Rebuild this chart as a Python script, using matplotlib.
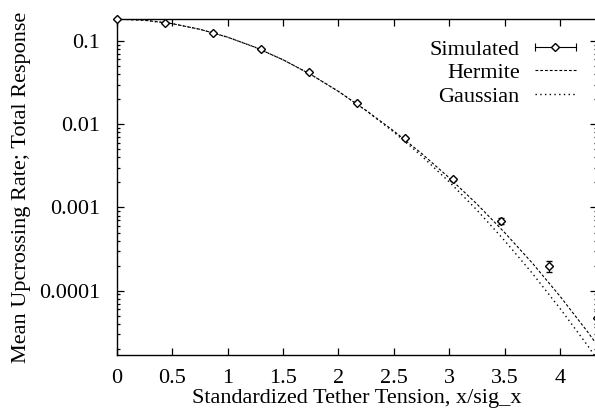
import numpy as np
import matplotlib
matplotlib.use("Agg")
import matplotlib.pyplot as plt
from matplotlib.lines import Line2D
from matplotlib.legend_handler import HandlerLine2D, HandlerTuple
from matplotlib.ticker import FixedLocator, LogLocator, NullFormatter, NullLocator, FuncFormatter

plt.rcParams['font.family'] = ['Liberation Serif', 'DejaVu Serif']
plt.rcParams['font.size'] = 16

# Simulated mean upcrossing rates (with error bars)
x_sim = [0.0, 0.433, 0.866, 1.299, 1.732, 2.165, 2.598, 3.031, 3.464, 3.897, 4.330]
y_sim = [0.1837, 0.166, 0.126, 0.080, 0.0425, 0.0182, 0.0069, 0.00217, 0.00069, 0.00020, 4.7e-5]
err_sim = [0.002, 0.002, 0.002, 0.0015, 0.0008, 0.0004, 0.00015, 0.0001, 0.00006, 0.00003, 0.00001]

# Hermite and Gaussian model curves
x_curve = [0.0, 0.25, 0.5, 0.75, 1.0, 1.25, 1.5, 1.75, 2.0, 2.25, 2.5,
           2.75, 3.0, 3.25, 3.5, 3.75, 4.0, 4.25, 4.5]
y_hermite = [0.1837, 0.1774, 0.1615, 0.1381, 0.1110, 0.0838, 0.0594, 0.0396,
             0.02477, 0.01460, 0.00828, 0.00446, 0.00227, 0.00110, 0.000500,
             0.000215, 8.6e-5, 3.2e-5, 1.11e-5]
y_gauss = [0.1837, 0.1774, 0.1615, 0.1381, 0.1110, 0.0838, 0.0594, 0.0396,
           0.02477, 0.01456, 0.00804, 0.00417, 0.00203, 0.000931, 0.000400,
           0.000162, 6.13e-5, 2.19e-5, 7.3e-6]

x_ticks = [0, 0.5, 1, 1.5, 2, 2.5, 3, 3.5, 4]
y_ticks = [0.0001, 0.001, 0.01, 0.1]

fig = plt.figure(figsize=(5.95, 4.12), dpi=100)
ax = fig.add_axes([117 / 595, 57 / 412, 479.5 / 595, 336 / 412])

lw = 0.8
dash = (0, (2.5, 1.8))
dots = (0, (1.0, 2.4))
ax.plot(x_curve, y_hermite, color='k', lw=lw, ls=dash)
ax.plot(x_curve, y_gauss, color='k', lw=1.0, ls=dots)
ax.errorbar(x_sim, y_sim, yerr=err_sim, fmt='D', ms=4.5, mfc='white', mec='k',
            mew=1.0, ecolor='k', elinewidth=lw, capsize=2.5, capthick=lw,
            clip_on=False, zorder=3)

ax.set_yscale('log')
ax.set_xlim(0, 4.33)
ax.set_ylim(1.688e-5, 0.1837)

ax.xaxis.set_major_locator(FixedLocator(x_ticks))
ax.xaxis.set_major_formatter(FuncFormatter(lambda v, p: '%g' % v))
ax.xaxis.set_minor_locator(NullLocator())
ax.yaxis.set_major_locator(FixedLocator(y_ticks))
ax.yaxis.set_major_formatter(FuncFormatter(lambda v, p: '%g' % v))
ax.yaxis.set_minor_locator(LogLocator(base=10, subs=np.arange(2, 10)))
ax.yaxis.set_minor_formatter(NullFormatter())

ax.tick_params(which='both', direction='in', top=True, right=True, width=0.9)
ax.tick_params(which='major', length=5)
ax.tick_params(which='minor', length=2.5)
ax.tick_params(axis='x', pad=10)
ax.tick_params(axis='y', pad=12)
for s in ax.spines.values():
    s.set_linewidth(1.0)

ax.set_xlabel('Standardized Tether Tension, x/sig_x', labelpad=1)
ax.set_ylabel('Mean Upcrossing Rate; Total Response', labelpad=6)

# gnuplot-style legend: text right aligned, sample on the right
h_bar = Line2D([], [], color='k', lw=lw, marker='|', ms=6, mew=lw)
h_pt = Line2D([], [], ls='none', marker='D', ms=4.5, mfc='white', mec='k', mew=1.0)
h_herm = Line2D([], [], color='k', lw=lw, ls=dash)
h_gauss = Line2D([], [], color='k', lw=1.0, ls=dots)
ax.legend([(h_bar, h_pt), h_herm, h_gauss], ['Simulated', 'Hermite', 'Gaussian'],
          handler_map={h_bar: HandlerLine2D(marker_pad=0, numpoints=2),
                       h_pt: HandlerLine2D(numpoints=1),
                       tuple: HandlerTuple(ndivide=1, pad=0)},
          markerfirst=False, frameon=False, loc='upper right',
          bbox_to_anchor=(0.957, 0.94), borderpad=0, borderaxespad=0,
          handlelength=1.85, handletextpad=0.68, labelspacing=0.13)

fig.savefig('out.png', dpi=100)
